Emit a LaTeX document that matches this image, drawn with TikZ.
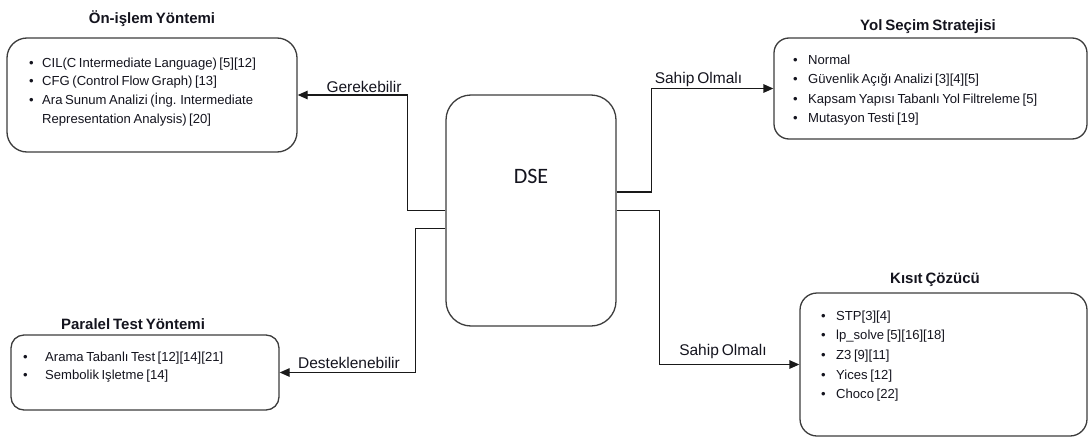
\documentclass[tikz,border=0pt]{standalone}
\usepackage{fontspec}
\setmainfont{Liberation Sans}[WordSpace=0.7]
\newfontfamily\dsefont{Carlito}
\usetikzlibrary{arrows.meta}
\definecolor{txt}{RGB}{20,20,30}
\definecolor{edge}{RGB}{60,60,60}
\tikzset{
  box/.style={draw=edge, line width=1.3pt, fill=white, inner sep=0pt},
  conn/.style={draw=black!90, line width=1.3pt},
  arr/.style={conn, -{Triangle[length=10pt,width=8.5pt]}},
  itemtxt/.style={inner sep=0pt, anchor=base west, text=txt, font=\fontsize{13.1}{15}\selectfont},
  ttl/.style={inner sep=0pt, anchor=base, text=txt, font=\bfseries\fontsize{15}{17}\selectfont},
  lbl/.style={inner sep=0pt, anchor=base, text=txt, font=\fontsize{15.5}{18}\selectfont},
}
\begin{document}
\begin{tikzpicture}[x=1pt,y=-1pt]
\useasboundingbox (0,0) rectangle (1089,439);
% boxes
\node[box, rounded corners=20pt, minimum width=290pt, minimum height=114pt] (pre) at (152,95) {};
\node[box, rounded corners=25pt, minimum width=170pt, minimum height=231pt] (dse) at (531,210.5) {};
\node[box, rounded corners=15pt, minimum width=313pt, minimum height=101pt] (yol) at (930.5,88.5) {};
\node[box, rounded corners=17pt, minimum width=287pt, minimum height=143pt] (kis) at (943.5,364.5) {};
\node[box, rounded corners=13pt, minimum width=268pt, minimum height=75pt] (par) at (145,372.5) {};
% titles
\node[ttl] (preT) at (152,23.3) {Ön-işlem Yöntemi};
\node[ttl] (yolT) at (928,30) {Yol Seçim Stratejisi};
\node[ttl] (kisT) at (935,283) {Kısıt Çözücü};
\node[ttl] (parT) at (133,329) {Paralel Test Yöntemi};
\node[inner sep=0pt, anchor=base, text=txt, font=\dsefont\fontsize{22}{24}\selectfont] (dseT) at (531,183) {DSE};
% lists
\foreach \t [count=\i] in {{CIL(C Intermediate Language) [5][12]},{CFG (Control Flow Graph) [13]},{Ara Sunum Analizi (İng. Intermediate}}
  \node[itemtxt] (pre\i) at (29,{67+18.7*(\i-1)}) {\makebox[13pt][l]{\textbullet}\t};
\node[itemtxt] (pre4) at (42,123) {Representation Analysis) [20]};
\foreach \t [count=\i] in {Normal,{Güvenlik Açığı Analizi [3][4][5]},{Kapsam Yapısı Tabanlı Yol Filtreleme [5]},{Mutasyon Testi [19]}}
  \node[itemtxt] (yol\i) at (793,{64.5+19.4*(\i-1)}) {\makebox[15pt][l]{\textbullet}\t};
\foreach \t [count=\i] in {{STP[3][4]},{lp\_solve [5][16][18]},{Z3 [9][11]},{Yices [12]},{Choco [22]}}
  \node[itemtxt] (kis\i) at (821,{320+19.7*(\i-1)}) {\makebox[15pt][l]{\textbullet}\t};
\foreach \t [count=\i] in {{Arama Tabanlı Test [12][14][21]},{Sembolik Işletme [14]}}
  \node[itemtxt] (par\i) at (23,{361+18.5*(\i-1)}) {\makebox[22pt][l]{\textbullet}\t};
% connectors
\draw[arr] (dse.west) -- ++(-38,0) |- (pre.east);
\draw[arr] ([yshift=-18pt]dse.west) -- ++(-30,0) |- (par.east);
\draw[arr] ([yshift=18.5pt]dse.east) -- ++(35,0) |- (yol.west);
\draw[arr] (dse.east) -- ++(43,0) |- (kis.west);
% labels
\node[lbl] (l1) at (364,92) {Gerekebilir};
\node[lbl] (l2) at (349,368) {Desteklenebilir};
\node[lbl] (l3) at (698.5,83) {Sahip Olmalı};
\node[lbl] (l4) at (723,355) {Sahip Olmalı};
\end{tikzpicture}
\end{document}
